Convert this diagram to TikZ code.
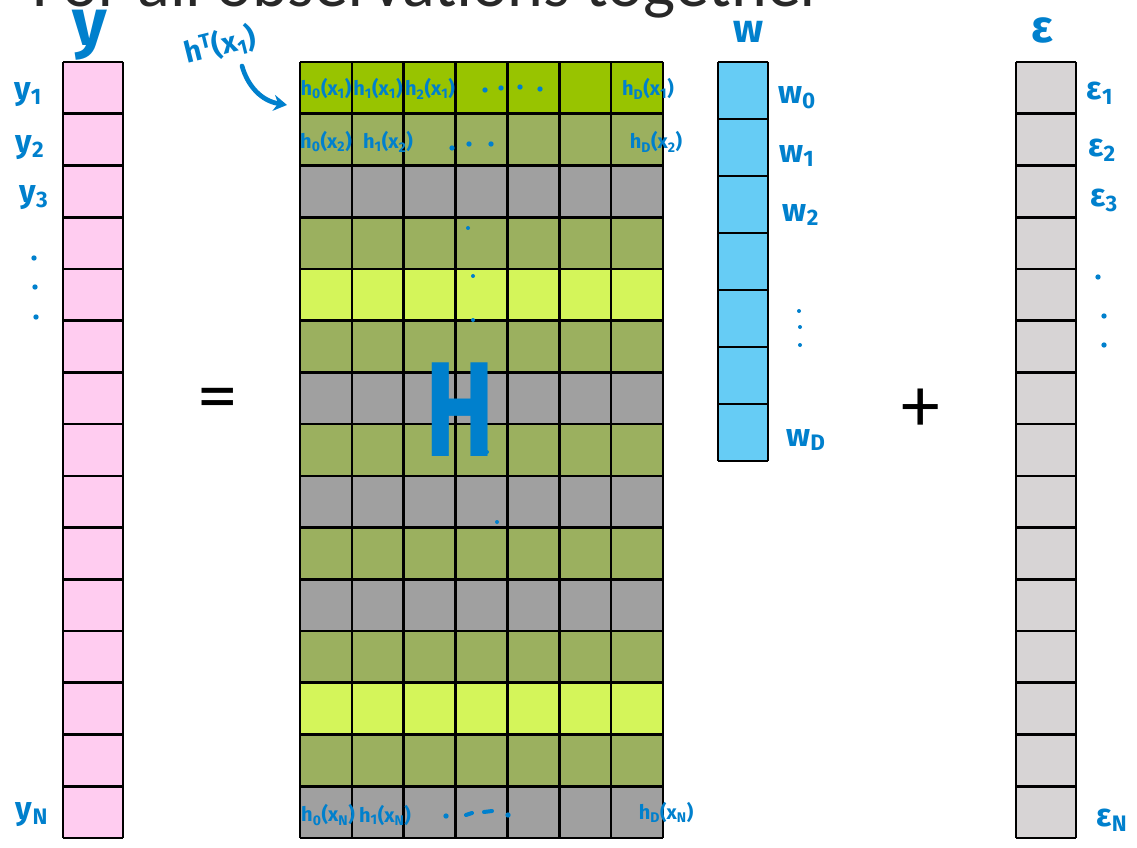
\documentclass[tikz,border=0pt]{standalone}
\usepackage{fontspec}
\setmainfont{Fira Sans}
\newfontfamily\titlefont{Carlito}
\newfontfamily\handfont{Fira Sans}
\usetikzlibrary{arrows.meta}
\definecolor{pinkc}{RGB}{255,204,240}
\definecolor{hgreen}{RGB}{152,196,0}
\definecolor{olivec}{RGB}{155,176,95}
\definecolor{grayc}{RGB}{160,160,160}
\definecolor{limec}{RGB}{212,245,90}
\definecolor{wblue}{RGB}{102,204,245}
\definecolor{epsgray}{RGB}{215,212,213}
\definecolor{ink}{RGB}{0,128,205}
\definecolor{titlegray}{RGB}{40,40,40}
\newcommand\sbs[1]{\textsubscript{#1}}
\tikzset{
  grid/.style={draw=black, line width=2pt},
  hand/.style={text=ink, font=\handfont\bfseries\fontsize{24}{26}\selectfont, inner sep=0pt},
  bighand/.style={text=ink, font=\handfont\bfseries\fontsize{40}{44}\selectfont, inner sep=0pt},
  cellhand/.style={text=ink, font=\handfont\bfseries\fontsize{15}{16}\selectfont, inner sep=0pt},
  inkdot/.style={fill=ink, draw=none, circle, inner sep=0pt, minimum size=4pt},
  inkdash/.style={draw=ink, line width=3pt, line cap=round},
  symb/.style={font=\titlefont\fontsize{58}{60}\selectfont, text=black, inner sep=0pt},
}
\begin{document}
\begin{tikzpicture}[x=0.75pt,y=-0.75pt]
\useasboundingbox (0,0) rectangle (1137,848);
\clip (0,0) rectangle (1137,848);
\fill[white] (0,0) rectangle (1137,848);
% title (cut off at top)
\node[anchor=base west, inner sep=0pt, text=titlegray, font=\titlefont\fontsize{51}{60}\selectfont] (title) at (32,7) {For all observations together};

% y column
\pgfmathsetmacro{\rh}{776/15}
\fill[pinkc] (63,62) rectangle (123,838);
\foreach \i in {0,...,15} \draw[grid] (63,62+\i*\rh) -- (123,62+\i*\rh);
\draw[grid] (63,62) -- (63,838) (123,62) -- (123,838);

% H matrix
\foreach \c [count=\i from 0] in {hgreen,olivec,grayc,olivec,limec,olivec,grayc,olivec,grayc,olivec,grayc,olivec,limec,olivec,grayc}
  \fill[\c] (300,62+\i*\rh) rectangle (663,62+\i*\rh+\rh);
\foreach \i in {0,...,15} \draw[grid] (300,62+\i*\rh) -- (663,62+\i*\rh);
\foreach \j in {0,...,7} \draw[grid] (300+\j*363/7,62) -- (300+\j*363/7,838);

% w column
\pgfmathsetmacro{\wh}{399/7}
\fill[wblue] (718,62) rectangle (768,461);
\foreach \i in {0,...,7} \draw[grid] (718,62+\i*\wh) -- (768,62+\i*\wh);
\draw[grid] (718,62) -- (718,461) (768,62) -- (768,461);

% epsilon column
\fill[epsgray] (1016,62) rectangle (1076,838);
\foreach \i in {0,...,15} \draw[grid] (1016,62+\i*\rh) -- (1076,62+\i*\rh);
\draw[grid] (1016,62) -- (1016,838) (1076,62) -- (1076,838);

% operators
\node[symb] (eq) at (218,405) {=};
\node[symb] (plus) at (921,410) {+};

% y labels
\node[bighand, font=\handfont\bfseries\fontsize{50}{52}\selectfont] (ylab) at (90,35) {y};
\node[hand] (y1) at (28,95) {y\sbs{1}};
\node[hand] (y2) at (30,148) {y\sbs{2}};
\node[hand] (y3) at (34,198) {y\sbs{3}};
\node[inkdot] (yd1) at (34,258) {};
\node[inkdot] (yd2) at (35,287) {};
\node[inkdot] (yd3) at (36,317) {};
\node[hand] (yN) at (32,815) {y\sbs{N}};

% H labels
\node[bighand, font=\handfont\bfseries\fontsize{78}{80}\selectfont, yscale=1.3] (Hlab) at (460,410) {H};
\node[hand, font=\handfont\bfseries\fontsize{22}{24}\selectfont, rotate=14] (hT) at (220,45) {h\textsuperscript{T}(x\sbs{1})};
\coordinate (arrs) at (242,66);
\coordinate (arre) at (287,105);
\draw[ink, line width=3.5pt, line cap=round, -{Stealth[length=10pt,width=12pt]}] (arrs) .. controls (248,87) and (262,101) .. (arre);

\node[cellhand] (h01) at (326,89) {h\sbs{0}(x\sbs{1})};
\node[cellhand] (h11) at (378,89) {h\sbs{1}(x\sbs{1})};
\node[cellhand] (h21) at (430,89) {h\sbs{2}(x\sbs{1})};
\node[inkdot] (d11) at (485,90) {};
\node[inkdot] (d12) at (501,88) {};
\node[inkdot] (d13) at (520,87) {};
\node[inkdot] (d14) at (540,89) {};
\node[cellhand] (hD1) at (648,89) {h\sbs{D}(x\sbs{1})};
\node[cellhand] (h02) at (326,142) {h\sbs{0}(x\sbs{2})};
\node[cellhand] (h12) at (388,142) {h\sbs{1}(x\sbs{2})};
\node[inkdot] (d21) at (452,148) {};
\node[inkdot] (d22) at (469,144) {};
\node[inkdot] (d23) at (491,144) {};
\node[cellhand] (hD2) at (656,142) {h\sbs{D}(x\sbs{2})};
\node[cellhand] (h0N) at (328,815) {h\sbs{0}(x\sbs{N})};
\node[cellhand] (h1N) at (385,815) {h\sbs{1}(x\sbs{N})};
\node[inkdot] (dN1) at (446,816) {};
\coordinate (dN2a) at (466,815); \coordinate (dN2b) at (472,813);
\coordinate (dN3a) at (484,812); \coordinate (dN3b) at (492,811);
\draw[inkdash] (dN2a) -- (dN2b) (dN3a) -- (dN3b);
\node[inkdot] (dN4) at (508,815) {};
\node[cellhand] (hDN) at (666,812) {h\sbs{D}(x\sbs{N})};
\node[inkdot, minimum size=3pt] (hd1) at (468,228) {};
\node[inkdot, minimum size=3pt] (hd2) at (473,276) {};
\node[inkdot, minimum size=3pt] (hd3) at (473,320) {};
\node[inkdot, minimum size=3pt] (hd4) at (487,452) {};
\node[inkdot, minimum size=3pt] (hd5) at (497,522) {};

% w labels
\node[bighand, font=\handfont\bfseries\fontsize{30}{32}\selectfont] (wlab) at (748,32) {w};
\node[hand] (w0) at (797,98) {w\sbs{0}};
\node[hand] (w1) at (797,156) {w\sbs{1}};
\node[hand] (w2) at (801,215) {w\sbs{2}};
\node[inkdot, minimum size=3pt] (wd1) at (799,311) {};
\node[inkdot, minimum size=3pt] (wd2) at (800,327) {};
\node[inkdot, minimum size=3pt] (wd3) at (800,345) {};
\node[hand] (wD) at (806,440) {w\sbs{D}};

% epsilon labels
\node[bighand, font=\handfont\bfseries\fontsize{34}{36}\selectfont] (elab) at (1042,30) {ε};
\node[hand] (e1) at (1100,93) {ε\sbs{1}};
\node[hand] (e2) at (1102,150) {ε\sbs{2}};
\node[hand] (e3) at (1104,200) {ε\sbs{3}};
\node[inkdot] (ed1) at (1098,277) {};
\node[inkdot] (ed2) at (1104,316) {};
\node[inkdot] (ed3) at (1104,345) {};
\node[hand] (eN) at (1112,820) {ε\sbs{N}};
\end{tikzpicture}
\end{document}
